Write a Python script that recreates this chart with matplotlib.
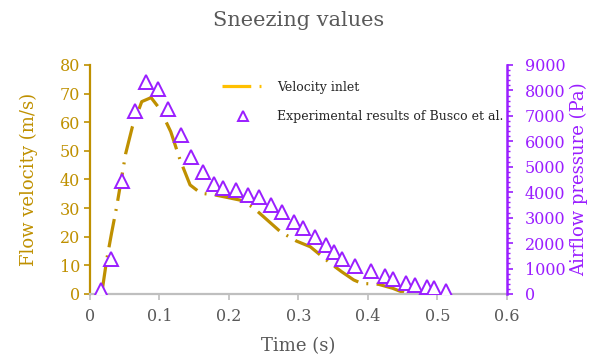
import matplotlib
matplotlib.use("Agg")
import matplotlib.pyplot as plt
from matplotlib.ticker import MultipleLocator

### data
vel_time = [0.0168, 0.024, 0.031, 0.0384, 0.0514, 0.061, 0.0745, 0.0879, 0.1009, 0.1162,
            0.1297, 0.144, 0.1595, 0.180, 0.216, 0.2344, 0.2497, 0.2738, 0.297, 0.317,
            0.346, 0.362, 0.3795, 0.391, 0.415, 0.4355, 0.456]
vel_value = [0, 11.9, 21.2, 30.5, 49.1, 58.4, 67.2, 68.6, 64.5, 56.7,
             46.8, 38.1, 35.2, 34.6, 32.8, 30.3, 27.0, 21.8, 18.5, 16.5,
             10.7, 7.8, 4.9, 3.7, 3.4, 2.0, 0]

exp_time = [0.0154, 0.0303, 0.0466, 0.0653, 0.0807, 0.0985, 0.1124, 0.1307, 0.146, 0.163,
            0.1787, 0.192, 0.21, 0.227, 0.243, 0.260, 0.276, 0.293, 0.307, 0.324,
            0.339, 0.351, 0.363, 0.381, 0.4045, 0.424, 0.436, 0.455, 0.468, 0.485,
            0.495, 0.512]
exp_pressure = [160, 1375, 4450, 7190, 8320, 8070, 7260, 6235, 5400, 4795,
                4325, 4155, 4090, 3900, 3800, 3490, 3210, 2845, 2580, 2230,
                1925, 1660, 1375, 1110, 915, 720, 575, 420, 340, 290,
                235, 130]

GOLD = "#BF9000"
PURPLE = "#9A1EFF"
GREY = "#595959"

plt.rcParams["font.family"] = ["DejaVu Serif"]

fig = plt.figure(figsize=(5.92, 3.61), dpi=100)
ax = fig.add_axes([0.152, 0.1856, 0.7044, 0.6344])
ax2 = ax.twinx()

line, = ax.plot(vel_time, vel_value, color=GOLD, lw=2.3, dashes=(9, 2.6, 0.6, 2.6),
                label="Velocity inlet")
pts, = ax2.plot(exp_time, exp_pressure, linestyle="None", marker="^", markersize=9.5,
                markerfacecolor="white", markeredgecolor=PURPLE, markeredgewidth=1.4,
                label="Experimental results of Busco et al.")

ax.set_xlim(0, 0.6)
ax.set_ylim(0, 80)
ax2.set_ylim(0, 9000)
ax.yaxis.set_major_locator(MultipleLocator(10))
ax2.yaxis.set_major_locator(MultipleLocator(1000))
ax2.yaxis.set_minor_locator(MultipleLocator(200))
ax.set_xticks([0, 0.1, 0.2, 0.3, 0.4, 0.5, 0.6])
ax.set_xticklabels(["0", "0.1", "0.2", "0.3", "0.4", "0.5", "0.6"])

for a in (ax, ax2):
    a.spines["top"].set_visible(False)
ax.spines["right"].set_visible(False)
ax2.spines["left"].set_visible(False)
ax2.spines["bottom"].set_visible(False)
ax.spines["left"].set_color(GOLD)
ax.spines["left"].set_linewidth(1.6)
ax.spines["bottom"].set_color("#BFBFBF")
ax.spines["bottom"].set_linewidth(1.6)
ax2.spines["right"].set_color(PURPLE)
ax2.spines["right"].set_linewidth(1.8)

ax.tick_params(axis="y", colors=GOLD, labelsize=11.5, length=4, width=1.2, pad=3)
ax.tick_params(axis="x", colors="#BFBFBF", labelcolor=GREY, labelsize=11.5, length=4,
               width=1.2, pad=6)
ax2.tick_params(axis="y", which="major", colors=PURPLE, labelsize=11.5, length=4, width=1.2, pad=9)
ax2.tick_params(axis="y", which="minor", colors=PURPLE, length=2.5, width=1.0)

ax.set_xlabel("Time (s)", color=GREY, fontsize=13, labelpad=9)
ax.set_ylabel("Flow velocity (m/s)", color=GOLD, fontsize=13, labelpad=16)
ax2.set_ylabel("Airflow pressure (Pa)", color=PURPLE, fontsize=13, labelpad=3)
ax.set_title("Sneezing values", color=GREY, fontsize=15, pad=28)

leg = ax.legend([line, pts], [line.get_label(), pts.get_label()], loc="upper left",
                bbox_to_anchor=(0.29, 0.98), frameon=False, fontsize=9, handlelength=3.4,
                labelspacing=1.3, handletextpad=1.0)
for t in leg.get_texts():
    t.set_color("#262626")
leg.legend_handles[0].set_color("#FFC000")
leg.legend_handles[1].set_markersize(7)

fig.savefig("out.png", dpi=100)
